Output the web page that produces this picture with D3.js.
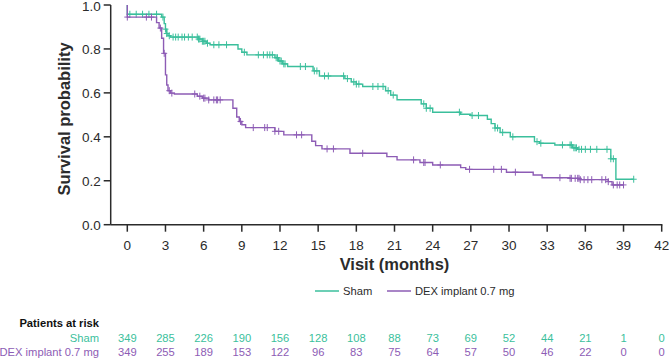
<!DOCTYPE html>
<html>
<head>
<meta charset="utf-8">
<script src="https://cdn.jsdelivr.net/npm/d3@7.9.0/dist/d3.min.js"></script>
<style>
  body { margin: 0; background: #fff; }
  svg { font-family: Arial, "Liberation Sans", sans-serif; }
</style>
</head>
<body>
<svg id="chart" width="669" height="360"></svg>
<script>
// Kaplan-Meier steps (months, survival after the step)
const shamTimes = [0, 2.7, 2.9, 3.0, 3.1, 3.2, 3.4, 5.6, 5.9, 6.2, 6.5, 8.7, 9.0, 9.4, 11.6, 11.9, 12.2, 12.6, 14.6, 15.1, 17.1, 17.6, 18.0, 18.5, 20.3, 20.7, 21.2, 23.1, 23.5, 24.0, 26.2, 27.0, 28.3, 28.6, 28.9, 29.3, 30.1, 32.0, 32.4, 33.6, 35.0, 35.4, 38.0, 38.4];
const shamSurv = [0.958, 0.945, 0.915, 0.89, 0.87, 0.86, 0.854, 0.845, 0.835, 0.826, 0.819, 0.80, 0.785, 0.773, 0.76, 0.745, 0.732, 0.72, 0.70, 0.677, 0.665, 0.65, 0.64, 0.629, 0.61, 0.59, 0.569, 0.55, 0.53, 0.512, 0.503, 0.497, 0.48, 0.46, 0.44, 0.42, 0.40, 0.378, 0.371, 0.363, 0.35, 0.343, 0.30, 0.207];

const dexTimes = [0, 2.3, 2.5, 2.7, 2.85, 3.0, 3.1, 3.2, 3.4, 3.7, 5.5, 5.9, 6.4, 8.3, 8.6, 8.8, 9.0, 9.3, 11.6, 12.3, 14.5, 14.8, 15.3, 17.5, 20.4, 21.2, 23.0, 24.0, 26.2, 26.6, 29.8, 31.9, 32.6, 34.8, 35.6, 37.8, 38.1];
const dexSurv = [0.945, 0.92, 0.895, 0.849, 0.78, 0.682, 0.636, 0.61, 0.599, 0.595, 0.585, 0.576, 0.568, 0.53, 0.49, 0.47, 0.455, 0.442, 0.425, 0.409, 0.38, 0.36, 0.345, 0.325, 0.31, 0.295, 0.283, 0.272, 0.26, 0.252, 0.239, 0.226, 0.214, 0.211, 0.205, 0.196, 0.181];

// Censoring times
const shamCensor = [0.2, 0.7, 1.2, 1.7, 2.3, 2.8, 3.0, 3.1, 3.3, 3.6, 3.8, 4.0, 4.3, 4.5, 4.8, 5.1, 5.5, 5.6, 5.7, 5.9, 6.0, 6.1, 6.3, 6.8, 7.2, 7.8, 9.2, 10.3, 10.7, 11.0, 11.2, 11.4, 11.7, 11.8, 12.0, 12.1, 12.3, 12.4, 13.6, 14.0, 14.7, 14.9, 15.5, 15.8, 17.0, 17.3, 17.8, 18.0, 18.2, 19.3, 19.7, 20.1, 20.5, 20.9, 23.3, 23.5, 23.8, 26.1, 27.1, 27.6, 28.9, 29.1, 29.5, 30.3, 32.2, 32.5, 34.2, 34.8, 34.9, 35.1, 35.2, 35.3, 35.5, 35.7, 36.0, 36.4, 36.9, 37.7, 38.0, 38.2, 39.8];
const dexCensor = [0, 1.5, 1.9, 2.6, 2.9, 3.3, 3.5, 5.3, 5.7, 6.0, 6.1, 6.4, 6.8, 7.0, 7.1, 7.3, 8.9, 9.9, 10.8, 11.0, 11.6, 11.9, 13.3, 13.7, 15.7, 16.2, 18.5, 22.5, 23.3, 23.4, 24.6, 26.9, 28.8, 29.4, 30.5, 34.0, 34.8, 34.9, 35.2, 35.4, 35.5, 35.6, 35.9, 36.2, 36.5, 37.3, 37.6, 37.8, 38.2, 38.5, 38.7, 39.0];

// Patients at risk table
const riskTimes = [0, 3, 6, 9, 12, 15, 18, 21, 24, 27, 30, 33, 36, 39, 42];
const shamRisk = [349, 285, 226, 190, 156, 128, 108, 88, 73, 69, 52, 44, 21, 1, 0];
const dexRisk = [349, 255, 189, 153, 122, 96, 83, 75, 64, 57, 50, 46, 22, 0, 0];

const yTicks = [0, 0.2, 0.4, 0.6, 0.8, 1.0];
const xTicks = riskTimes;

const shamColor = '#3bbf9c';
const dexColor = '#8d5cb5';
const axisColor = '#2b2b2b';

const svg = d3.select('#chart');

const x = d3.scaleLinear().domain([0, 42]).range([127.3, 661.7]);
const y = d3.scaleLinear().domain([0, 1]).range([224.7, 5]);
const axisLeftX = 110.7;

// Axes lines
svg.append('line')
  .attr('x1', axisLeftX).attr('x2', axisLeftX)
  .attr('y1', y(1)).attr('y2', y(0))
  .attr('stroke', axisColor).attr('stroke-width', 1.5);
svg.append('line')
  .attr('x1', axisLeftX).attr('x2', x(42) + 0.7)
  .attr('y1', y(0)).attr('y2', y(0))
  .attr('stroke', axisColor).attr('stroke-width', 1.5);

// Y ticks (keep the top label inside the picture)
yTicks.forEach(t => {
  svg.append('line')
    .attr('x1', axisLeftX - 7).attr('x2', axisLeftX)
    .attr('y1', y(t)).attr('y2', y(t))
    .attr('stroke', axisColor).attr('stroke-width', 1.5);
  svg.append('text')
    .attr('x', axisLeftX - 10).attr('y', Math.max(y(t) + 4.8, 11))
    .attr('text-anchor', 'end')
    .attr('font-size', 13.5)
    .attr('fill', axisColor)
    .text(d3.format('.1f')(t));
});

// X ticks
xTicks.forEach(t => {
  svg.append('line')
    .attr('x1', x(t)).attr('x2', x(t))
    .attr('y1', y(0)).attr('y2', y(0) + 7)
    .attr('stroke', axisColor).attr('stroke-width', 1.5);
  svg.append('text')
    .attr('x', x(t)).attr('y', 249.5)
    .attr('text-anchor', 'middle')
    .attr('font-size', 13.5)
    .attr('fill', axisColor)
    .text(t);
});

// Axis titles
svg.append('text')
  .attr('transform', 'translate(70,119) rotate(-90)')
  .attr('text-anchor', 'middle')
  .attr('font-size', 16.5).attr('font-weight', 'bold')
  .attr('fill', axisColor)
  .text('Survival probability');
svg.append('text')
  .attr('x', (x(0) + x(42)) / 2).attr('y', 270)
  .attr('text-anchor', 'middle')
  .attr('font-size', 16.5).attr('font-weight', 'bold')
  .attr('fill', axisColor)
  .text('Visit (months)');

// Survival value at time t (step function)
function survAt(times, surv, t) {
  let s = 1;
  times.forEach((tt, i) => { if (tt <= t) s = surv[i]; });
  return s;
}

function drawCurve(times, surv, censor, color) {
  const lastT = d3.max(censor);
  const pts = [[0, 1]].concat(times.map((t, i) => [t, surv[i]]));
  pts.push([lastT, surv[surv.length - 1]]);

  const line = d3.line()
    .x(d => x(d[0]))
    .y(d => y(d[1]))
    .curve(d3.curveStepAfter);

  svg.append('path')
    .attr('d', line(pts))
    .attr('fill', 'none')
    .attr('stroke', color)
    .attr('stroke-width', 1.4);

  // Censor marks
  censor.forEach(t => {
    const cx = x(t);
    const cy = y(survAt(times, surv, t));
    svg.append('path')
      .attr('d', `M${cx - 3},${cy}H${cx + 3}M${cx},${cy - 3.5}V${cy + 3.5}`)
      .attr('stroke', color)
      .attr('stroke-width', 1);
  });
}

drawCurve(shamTimes, shamSurv, shamCensor, shamColor);
drawCurve(dexTimes, dexSurv, dexCensor, dexColor);

// Legend
const legendItems = [
  { label: 'Sham', color: shamColor, x: 315 },
  { label: 'DEX implant 0.7 mg', color: dexColor, x: 387 }
];
legendItems.forEach(d => {
  svg.append('line')
    .attr('x1', d.x).attr('x2', d.x + 24)
    .attr('y1', 291).attr('y2', 291)
    .attr('stroke', d.color).attr('stroke-width', 1.5);
  svg.append('text')
    .attr('x', d.x + 28).attr('y', 295)
    .attr('font-size', 11.2)
    .attr('fill', axisColor)
    .text(d.label);
});

// Patients at risk
svg.append('text')
  .attr('x', 99).attr('y', 327)
  .attr('text-anchor', 'end')
  .attr('font-size', 11.2).attr('font-weight', 'bold')
  .attr('fill', '#111')
  .text('Patients at risk');

const rows = [
  { label: 'Sham', values: shamRisk, color: shamColor, y: 342 },
  { label: 'DEX implant 0.7 mg', values: dexRisk, color: dexColor, y: 356 }
];
rows.forEach(r => {
  svg.append('text')
    .attr('x', 99).attr('y', r.y)
    .attr('text-anchor', 'end')
    .attr('font-size', 11.2)
    .attr('fill', r.color)
    .text(r.label);
  r.values.forEach((v, i) => {
    svg.append('text')
      .attr('x', x(riskTimes[i])).attr('y', r.y)
      .attr('text-anchor', 'middle')
      .attr('font-size', 11.2)
      .attr('fill', r.color)
      .text(v);
  });
});
</script>
</body>
</html>
